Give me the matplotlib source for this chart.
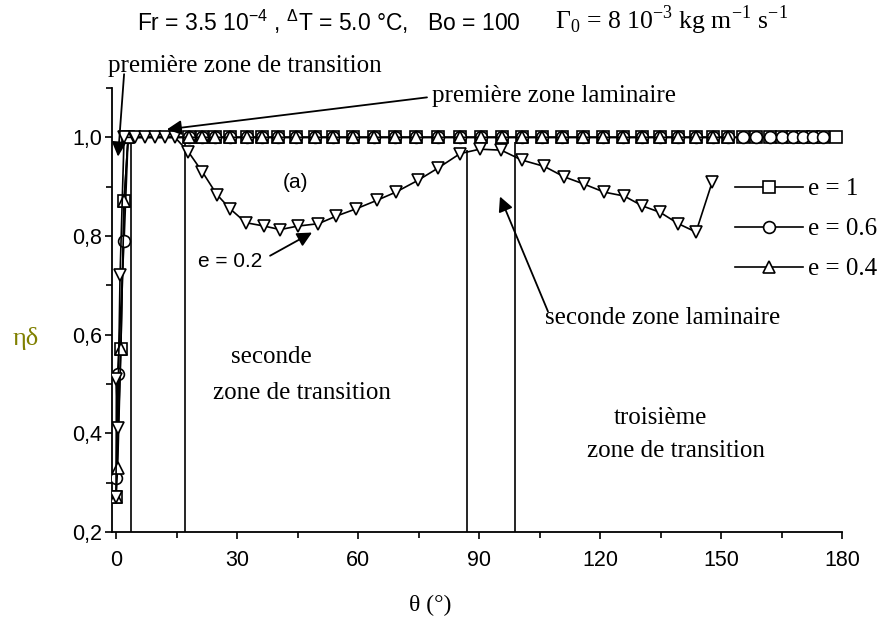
import matplotlib
matplotlib.use('Agg')
import matplotlib.pyplot as plt
from matplotlib.ticker import FuncFormatter

# données
theta_top = [18.0, 21.2, 24.5, 28.3, 32.4, 36.1, 40.2, 44.7, 49.3, 53.9,
             58.8, 64.0, 69.2, 74.5, 79.9, 85.3, 90.5, 95.6, 100.6, 105.5,
             110.5, 115.8, 120.8, 125.7, 130.4, 134.8, 139.4, 143.9, 148.0, 151.7,
             155.4, 158.8, 162.1, 165.0, 167.8, 170.3, 172.8, 175.3, 178.6]
eta_top = [1.0, 1.0, 1.0, 1.0, 1.0, 1.0, 1.0, 1.0, 1.0, 1.0,
           1.0, 1.0, 1.0, 1.0, 1.0, 1.0, 1.0, 1.0, 1.0, 1.0,
           1.0, 1.0, 1.0, 1.0, 1.0, 1.0, 1.0, 1.0, 1.0, 1.0,
           1.0, 1.0, 1.0, 1.0, 1.0, 1.0, 1.0, 1.0, 1.0]

# e = 1
theta_e1 = [0.0, 1.2, 2.0, 3.0] + theta_top
eta_e1 = [0.27, 0.57, 0.87, 1.0] + eta_top
# e = 0.6
theta_e06 = [0.1, 0.4, 2.0, 3.0] + theta_top[:38]
eta_e06 = [0.31, 0.52, 0.79, 1.0] + eta_top[:38]
# e = 0.4
theta_e04 = [0.0, 0.4, 1.2, 2.0, 3.0] + theta_top[:30]
eta_e04 = [0.27, 0.33, 0.57, 0.87, 1.0] + eta_top[:30]
# e = 0.2
theta_e02 = [0.0, 0.1, 0.4, 1.0, 2.0, 4.7, 7.2, 9.7, 12.1, 14.6,
             17.9, 21.4, 25.0, 28.3, 32.2, 36.8, 40.7, 45.0, 50.2, 54.5,
             59.5, 64.6, 69.4, 74.9, 79.9, 85.3, 90.2, 95.5, 100.6, 106.2,
             111.1, 116.1, 121.0, 126.0, 130.5, 134.9, 139.4, 143.8, 147.8]
eta_e02 = [0.27, 0.51, 0.41, 0.72, 1.0, 1.0, 1.0, 1.0, 1.0, 1.0,
           0.971, 0.930, 0.884, 0.855, 0.827, 0.820, 0.813, 0.820, 0.825, 0.840,
           0.855, 0.872, 0.889, 0.913, 0.938, 0.967, 0.976, 0.974, 0.954, 0.941,
           0.920, 0.905, 0.889, 0.881, 0.861, 0.848, 0.825, 0.808, 0.909]

# limites des zones
zone_bounds = [3.7, 17.0, 87.0, 99.0]
zone_tops = [1.0, 1.0, 0.975, 0.99]

x_major = [0, 30, 60, 90, 120, 150, 180]
x_minor = [15, 45, 75, 105, 135, 165]
y_major = [0.2, 0.4, 0.6, 0.8, 1.0]
y_minor = [0.3, 0.5, 0.7, 0.9, 1.1]

SANS = 'Liberation Sans'
SERIF = 'Liberation Serif'

fig = plt.figure(figsize=(8.88, 6.21), dpi=100)
ax = fig.add_axes([0.1261, 0.1433, 0.8221, 0.715])

ax.vlines(zone_bounds, 0.2, zone_tops, color='black', lw=1.2, zorder=1)

mk = dict(color='black', lw=1.2, ms=8.5, mew=1.2, mfc='white', mec='black', zorder=3)
ax.plot(theta_e1, eta_e1, marker='s', label='e = 1', **mk)
ax.plot(theta_e06, eta_e06, marker='o', label='e = 0.6', **mk)
ax.plot(theta_e04, eta_e04, marker='^', label='e = 0.4', **mk)
ax.plot(theta_e02, eta_e02, marker='v', **mk)

ax.set_xlim(-1, 180)
ax.set_ylim(0.2, 1.1)
ax.set_xticks(x_major)
ax.set_xticks(x_minor, minor=True)
ax.set_yticks(y_major)
ax.set_yticks(y_minor, minor=True)
ax.yaxis.set_major_formatter(FuncFormatter(lambda v, p: f'{v:.1f}'.replace('.', ',')))
ax.tick_params(which='major', length=5, width=1.2, labelsize=15.5, pad=2)
ax.tick_params(which='minor', length=4, width=1.2)
ax.tick_params(axis='x', which='major', pad=8)
for lab in ax.get_xticklabels() + ax.get_yticklabels():
    lab.set_family(SANS)
for s in ['top', 'right']:
    ax.spines[s].set_visible(False)
for s in ['left', 'bottom']:
    ax.spines[s].set_linewidth(1.3)

# légende
ax.legend(loc='upper left',
          bbox_to_anchor=(735 / 888, 1 - 178 / 621), bbox_transform=fig.transFigure,
          frameon=False, numpoints=1, handlelength=2.7, handletextpad=0.2,
          labelspacing=0.7, borderpad=0, borderaxespad=0,
          prop={'family': SERIF, 'size': 18})

# annotations
arrow = dict(arrowstyle='-|>', color='black', lw=1.3, mutation_scale=22, shrinkA=0, shrinkB=0)
ax.annotate('', xy=(0.5, 0.961), xytext=(2.0, 1.128), arrowprops=arrow, annotation_clip=False)
ax.annotate('', xy=(12.6, 1.016), xytext=(77.1, 1.081), arrowprops=arrow, annotation_clip=False)
ax.annotate('', xy=(48.6, 0.807), xytext=(38.2, 0.760), arrowprops=arrow)
ax.annotate('', xy=(95.2, 0.880), xytext=(107.1, 0.647), arrowprops=arrow)

ax.text(-2.0, 1.144, 'première zone de transition', family=SERIF, fontsize=18,
        ha='left', va='center')
ax.text(78.3, 1.083, 'première zone laminaire', family=SERIF, fontsize=18,
        ha='left', va='center')
ax.text(36.2, 0.748, 'e = 0.2', family=SANS, fontsize=15, ha='right', va='center')
ax.text(44.4, 0.909, '(a)', family=SANS, fontsize=15, ha='center', va='center')
ax.text(106.3, 0.634, 'seconde zone laminaire', family=SERIF, fontsize=18,
        ha='left', va='center')
ax.text(38.4, 0.555, 'seconde', family=SERIF, fontsize=18, ha='center', va='center')
ax.text(46.1, 0.482, 'zone de transition', family=SERIF, fontsize=18, ha='center', va='center')
ax.text(134.9, 0.431, 'troisième', family=SERIF, fontsize=18, ha='center', va='center')
ax.text(138.8, 0.364, 'zone de transition', family=SERIF, fontsize=18, ha='center', va='center')

# titre et axes
fig.text(137 / 888, 1 - 22 / 621,
         r'Fr = 3.5 10$^{\mathregular{-4}}$ , $^{\mathregular{\Delta}}$T = 5.0 °C,   Bo = 100',
         family=SANS, fontsize=16.5, ha='left', va='center')
fig.text(555 / 888, 1 - 20 / 621,
         r'$\mathregular{\Gamma_0}$ = 8 10$^{\mathregular{-3}}$ kg m$^{\mathregular{-1}}$ s$^{\mathregular{-1}}$',
         family=SERIF, fontsize=18.5, ha='left', va='center')
fig.text(430 / 888, 1 - 605 / 621, 'θ (°)', family=SERIF, fontsize=17, ha='center', va='center')
fig.text(25.5 / 888, 1 - 338 / 621, 'ηδ', family=SERIF, fontsize=19, color='#808000',
         ha='center', va='center')

fig.savefig('out.png', dpi=100)
